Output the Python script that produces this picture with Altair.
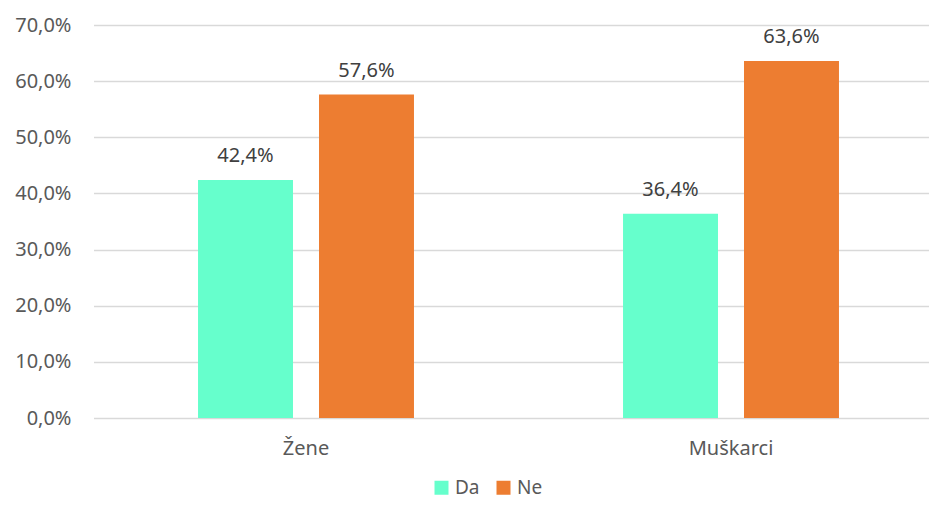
import altair as alt
import pandas as pd

groups = ["Žene", "Muškarci"]
series = ["Da", "Ne"]
da_values = [0.424, 0.364]
ne_values = [0.576, 0.636]
colors = ["#66FFCC", "#ED7D31"]
y_ticks = [0.0, 0.1, 0.2, 0.3, 0.4, 0.5, 0.6, 0.7]

rows = []
for g, d, n in zip(groups, da_values, ne_values):
    rows.append({"group": g, "series": "Da", "value": d})
    rows.append({"group": g, "series": "Ne", "value": n})
df = pd.DataFrame(rows)

FONT = "Noto Sans"
TXT = "#595959"

x_enc = alt.X(
    "group:N",
    sort=groups,
    scale=alt.Scale(range=[-0.5, 849.5], paddingInner=0, paddingOuter=0),
    axis=alt.Axis(title=None, labelAngle=0, domain=False, ticks=False,
                  labelFontSize=20, labelColor=TXT, labelFont=FONT, labelPadding=20),
)
xoff = alt.XOffset("series:N", sort=series,
                   scale=alt.Scale(paddingInner=0.215, paddingOuter=0.864))
y_enc = alt.Y(
    "value:Q",
    scale=alt.Scale(domain=[0, 0.7], nice=False),
    axis=alt.Axis(title=None, values=y_ticks, domain=False, ticks=False,
                  labelFontSize=20, labelColor=TXT, labelFont=FONT, labelPadding=23,
                  gridColor="#D9D9D9", gridWidth=1.3,
                  labelExpr="replace(format(datum.value, '.1%'), '.', ',')"),
)

base = alt.Chart(df)

bars = base.mark_bar().encode(
    x=x_enc,
    xOffset=xoff,
    y=y_enc,
    color=alt.Color(
        "series:N",
        sort=series,
        scale=alt.Scale(domain=series, range=colors),
        legend=alt.Legend(
            title=None, orient="none", direction="horizontal",
            legendX=338, legendY=453,
            symbolType="square", symbolSize=196, symbolStrokeWidth=0,
            labelFontSize=19, labelColor=TXT, labelFont=FONT,
            labelOffset=4, columnPadding=14, padding=0,
        ),
    ),
)

labels = base.transform_calculate(
    label="replace(format(datum.value, '.1%'), '.', ',')"
).mark_text(
    dy=-18, baseline="alphabetic", fontSize=20, font=FONT, color="#404040"
).encode(
    x=x_enc,
    xOffset=xoff,
    y=y_enc,
    text="label:N",
)

chart = alt.layer(bars, labels).properties(
    width=835,
    height=393,
    autosize=alt.AutoSizeParams(type="none"),
    padding={"left": 86, "top": 17, "right": 0, "bottom": 84},
).configure_view(stroke=None)

chart.save("out.html", embed_options={"renderer": "svg", "actions": False})
